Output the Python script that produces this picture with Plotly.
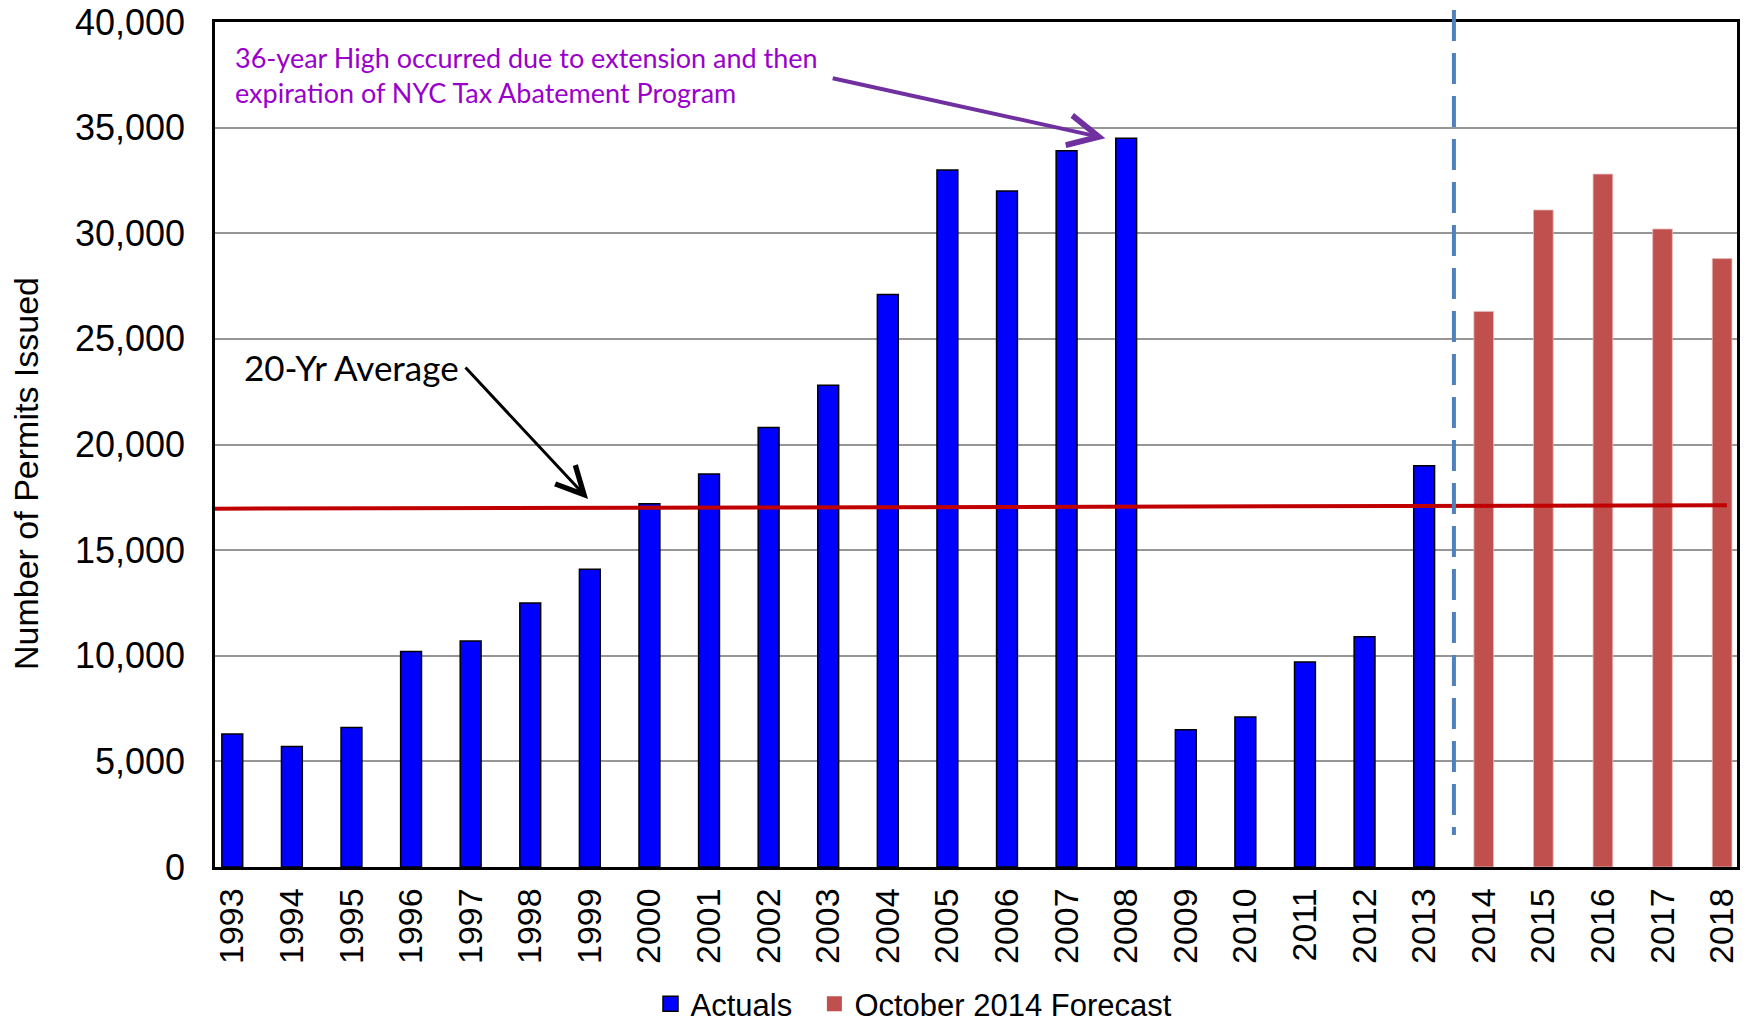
import plotly.graph_objects as go

# ---- data ----
actual_years = list(range(1993, 2014))
actual_vals = [6300, 5700, 6600, 10200, 10700, 12500, 14100, 17200, 18600, 20800,
               22800, 27100, 33000, 32000, 33900, 34500, 6500, 7100, 9700, 10900, 19000]
forecast_years = [2014, 2015, 2016, 2017, 2018]
forecast_vals = [26300, 31100, 32800, 30200, 28800]
all_years = actual_years + forecast_years
year_labels = [str(y) for y in all_years]
avg_x = [1992.64, 2018.08]
avg_y = [16960, 17120]
divider_year = 2013.5
y_ticks = [0, 5000, 10000, 15000, 20000, 25000, 30000, 35000, 40000]
y_tick_labels = ["0", "5,000", "10,000", "15,000", "20,000", "25,000", "30,000", "35,000", "40,000"]

AX_FONT = "Liberation Sans, Arial, sans-serif"
NOTE_FONT = "Lato, Calibri, sans-serif"
BLUE, RED = "#0000FF", "#C0504D"

W, H = 1749, 1025
# plot area on screen: x 215..1737, y 22..867
L, T, R, B = 215, 22, 12, 158
PW, PH = W - L - R, H - T - B


def px(xs):
    return (xs - L) / PW


def py(ys):
    return (T + PH - ys) / PH


fig = go.Figure()
fig.add_trace(go.Bar(
    x=actual_years, y=actual_vals, name="Actuals", width=0.35, showlegend=False,
    marker=dict(color=BLUE, line=dict(color="#000000", width=1.5)),
))
fig.add_trace(go.Bar(
    x=forecast_years, y=forecast_vals, name="October 2014 Forecast", width=0.33, showlegend=False,
    marker=dict(color=RED, line=dict(color="#E6B9B8", width=0.8)),
))
fig.add_trace(go.Scatter(
    x=avg_x, y=avg_y, mode="lines", showlegend=False, hoverinfo="skip",
    line=dict(color="#C00000", width=4),
))
# legend entries (square swatches)
fig.add_trace(go.Scatter(
    x=[None], y=[None], mode="markers", name="Actuals\u00a0\u00a0",
    marker=dict(symbol="square", size=15, color=BLUE, line=dict(color="#000000", width=1.5)),
))
fig.add_trace(go.Scatter(
    x=[None], y=[None], mode="markers", name="October 2014 Forecast",
    marker=dict(symbol="square", size=15, color=RED, line=dict(width=0)),
))

fig.add_shape(type="line", xref="x", yref="paper", x0=divider_year, x1=divider_year,
              y0=py(10), y1=py(835), line=dict(color="#4F81BD", width=4, dash="31px,12px"))

annotations = [
    dict(text="36-year High occurred due to extension and then<br>expiration of NYC Tax Abatement Program",
         xref="paper", yref="paper", x=px(233), y=py(75),
         xanchor="left", yanchor="middle", align="left", showarrow=False,
         font=dict(family=NOTE_FONT, size=27, color="#9A00CC")),
    dict(text="", x=2007.65, y=34500, ax=2003.05, ay=37351, xref="x", yref="y",
         axref="x", ayref="y", showarrow=True, arrowhead=5, arrowsize=1.5, arrowwidth=4,
         arrowcolor="#7030A0", standoff=0, startstandoff=0),
    dict(text="20-Yr Average", xref="paper", yref="paper",
         x=px(242), y=py(367), xanchor="left", yanchor="middle",
         showarrow=False, font=dict(family=NOTE_FONT, size=35, color="#000000")),
    dict(text="", x=1998.97, y=17421, ax=1996.89, ay=23717, xref="x", yref="y",
         axref="x", ayref="y", showarrow=True, arrowhead=5, arrowsize=1.8, arrowwidth=3,
         arrowcolor="#000000", standoff=0, startstandoff=0),
    dict(text="Number of Permits Issued", xref="paper", yref="paper",
         x=px(26), y=py(474), xanchor="center", yanchor="middle",
         textangle=-90, showarrow=False, font=dict(family=AX_FONT, size=34, color="#000000")),
]

fig.update_layout(
    width=W, height=H,
    margin=dict(l=L, r=R, t=T, b=B, autoexpand=False),
    paper_bgcolor="white", plot_bgcolor="white",
    barmode="overlay",
    font=dict(family=AX_FONT, color="#000000"),
    annotations=annotations,
    legend=dict(orientation="h", x=px(914), xanchor="center", y=py(1004), yanchor="middle",
                font=dict(size=31, family=AX_FONT), itemwidth=30, traceorder="normal"),
    xaxis=dict(range=[1992.71, 2018.25], tickmode="array", tickvals=all_years,
               ticktext=year_labels, tickangle=-90, showgrid=False, zeroline=False,
               showline=True, linecolor="#000000", linewidth=2.5, mirror=True, ticks="",
               tickfont=dict(size=34, family=AX_FONT), ticklabelstandoff=5, automargin=False,
               ticklabeloverflow="allow"),
    yaxis=dict(range=[0, 40000], tickmode="array", tickvals=y_ticks, ticktext=y_tick_labels,
               showgrid=True, gridcolor="#969696", gridwidth=2, zeroline=False,
               showline=True, linecolor="#000000", linewidth=2.5, mirror=True, ticks="",
               tickfont=dict(size=36, family=AX_FONT), ticklabelstandoff=20, automargin=False,
               ticklabeloverflow="allow"),
)

fig.write_html("out.html", config={"displayModeBar": False},
               post_script="document.body.style.margin='0px';")
